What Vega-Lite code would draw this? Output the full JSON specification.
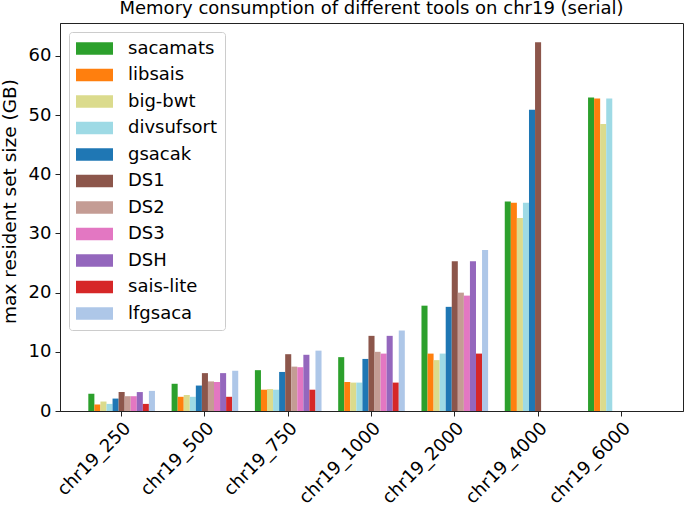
{
  "$schema": "https://vega.github.io/schema/vega-lite/v6.json",
  "width": 623,
  "height": 388,
  "autosize": {"type": "none"},
  "padding": {"left": 60, "top": 23, "right": 2, "bottom": 94},
  "config": {
    "font": "DejaVu Sans",
    "view": {"stroke": "#222222", "strokeWidth": 1},
    "axis": {"grid": false, "domainColor": "#222222", "tickColor": "#222222", "labelColor": "#000000", "titleColor": "#000000", "labelFont": "DejaVu Sans", "titleFont": "DejaVu Sans"}
  },
  "title": {
    "text": "Memory consumption of different tools on chr19 (serial)",
    "fontSize": 18,
    "fontWeight": "normal",
    "color": "#000000",
    "anchor": "middle",
    "offset": 5
  },
  "data": {
    "values": [
      {"dataset": "chr19_250", "tool": "sacamats", "gb": 2.9},
      {"dataset": "chr19_250", "tool": "libsais", "gb": 1.1},
      {"dataset": "chr19_250", "tool": "big-bwt", "gb": 1.6},
      {"dataset": "chr19_250", "tool": "divsufsort", "gb": 1.2},
      {"dataset": "chr19_250", "tool": "gsacak", "gb": 2.1},
      {"dataset": "chr19_250", "tool": "DS1", "gb": 3.2},
      {"dataset": "chr19_250", "tool": "DS2", "gb": 2.5},
      {"dataset": "chr19_250", "tool": "DS3", "gb": 2.5},
      {"dataset": "chr19_250", "tool": "DSH", "gb": 3.2},
      {"dataset": "chr19_250", "tool": "sais-lite", "gb": 1.2},
      {"dataset": "chr19_250", "tool": "lfgsaca", "gb": 3.4},
      {"dataset": "chr19_500", "tool": "sacamats", "gb": 4.6},
      {"dataset": "chr19_500", "tool": "libsais", "gb": 2.4},
      {"dataset": "chr19_500", "tool": "big-bwt", "gb": 2.7},
      {"dataset": "chr19_500", "tool": "divsufsort", "gb": 2.4},
      {"dataset": "chr19_500", "tool": "gsacak", "gb": 4.3},
      {"dataset": "chr19_500", "tool": "DS1", "gb": 6.4},
      {"dataset": "chr19_500", "tool": "DS2", "gb": 5.0},
      {"dataset": "chr19_500", "tool": "DS3", "gb": 4.9},
      {"dataset": "chr19_500", "tool": "DSH", "gb": 6.4},
      {"dataset": "chr19_500", "tool": "sais-lite", "gb": 2.4},
      {"dataset": "chr19_500", "tool": "lfgsaca", "gb": 6.8},
      {"dataset": "chr19_750", "tool": "sacamats", "gb": 6.9},
      {"dataset": "chr19_750", "tool": "libsais", "gb": 3.6},
      {"dataset": "chr19_750", "tool": "big-bwt", "gb": 3.7},
      {"dataset": "chr19_750", "tool": "divsufsort", "gb": 3.6},
      {"dataset": "chr19_750", "tool": "gsacak", "gb": 6.6},
      {"dataset": "chr19_750", "tool": "DS1", "gb": 9.6},
      {"dataset": "chr19_750", "tool": "DS2", "gb": 7.5},
      {"dataset": "chr19_750", "tool": "DS3", "gb": 7.4},
      {"dataset": "chr19_750", "tool": "DSH", "gb": 9.5},
      {"dataset": "chr19_750", "tool": "sais-lite", "gb": 3.6},
      {"dataset": "chr19_750", "tool": "lfgsaca", "gb": 10.2},
      {"dataset": "chr19_1000", "tool": "sacamats", "gb": 9.1},
      {"dataset": "chr19_1000", "tool": "libsais", "gb": 4.9},
      {"dataset": "chr19_1000", "tool": "big-bwt", "gb": 4.8},
      {"dataset": "chr19_1000", "tool": "divsufsort", "gb": 4.8},
      {"dataset": "chr19_1000", "tool": "gsacak", "gb": 8.8},
      {"dataset": "chr19_1000", "tool": "DS1", "gb": 12.7},
      {"dataset": "chr19_1000", "tool": "DS2", "gb": 10.0},
      {"dataset": "chr19_1000", "tool": "DS3", "gb": 9.7},
      {"dataset": "chr19_1000", "tool": "DSH", "gb": 12.7},
      {"dataset": "chr19_1000", "tool": "sais-lite", "gb": 4.8},
      {"dataset": "chr19_1000", "tool": "lfgsaca", "gb": 13.6},
      {"dataset": "chr19_2000", "tool": "sacamats", "gb": 17.8},
      {"dataset": "chr19_2000", "tool": "libsais", "gb": 9.7},
      {"dataset": "chr19_2000", "tool": "big-bwt", "gb": 8.6},
      {"dataset": "chr19_2000", "tool": "divsufsort", "gb": 9.7},
      {"dataset": "chr19_2000", "tool": "gsacak", "gb": 17.6},
      {"dataset": "chr19_2000", "tool": "DS1", "gb": 25.3},
      {"dataset": "chr19_2000", "tool": "DS2", "gb": 20.0},
      {"dataset": "chr19_2000", "tool": "DS3", "gb": 19.5},
      {"dataset": "chr19_2000", "tool": "DSH", "gb": 25.3},
      {"dataset": "chr19_2000", "tool": "sais-lite", "gb": 9.7},
      {"dataset": "chr19_2000", "tool": "lfgsaca", "gb": 27.2},
      {"dataset": "chr19_4000", "tool": "sacamats", "gb": 35.4},
      {"dataset": "chr19_4000", "tool": "libsais", "gb": 35.2},
      {"dataset": "chr19_4000", "tool": "big-bwt", "gb": 32.6},
      {"dataset": "chr19_4000", "tool": "divsufsort", "gb": 35.2},
      {"dataset": "chr19_4000", "tool": "gsacak", "gb": 50.9},
      {"dataset": "chr19_4000", "tool": "DS1", "gb": 62.3},
      {"dataset": "chr19_6000", "tool": "sacamats", "gb": 53.0},
      {"dataset": "chr19_6000", "tool": "libsais", "gb": 52.8},
      {"dataset": "chr19_6000", "tool": "big-bwt", "gb": 48.5},
      {"dataset": "chr19_6000", "tool": "divsufsort", "gb": 52.8}
    ]
  },
  "mark": {"type": "bar"},
  "encoding": {
    "x": {
      "field": "dataset",
      "type": "nominal",
      "sort": ["chr19_250", "chr19_500", "chr19_750", "chr19_1000", "chr19_2000", "chr19_4000", "chr19_6000"],
      "scale": {"paddingInner": 0.2, "paddingOuter": 0.34},
      "axis": {"title": null, "labelAngle": -45, "labelAlign": "right", "labelBaseline": "top", "labelFontSize": 18, "labelPadding": 3, "tickSize": 5, "domainWidth": 1}
    },
    "xOffset": {
      "field": "tool",
      "type": "nominal",
      "sort": ["sacamats", "libsais", "big-bwt", "divsufsort", "gsacak", "DS1", "DS2", "DS3", "DSH", "sais-lite", "lfgsaca"],
      "scale": {"domain": ["sacamats", "libsais", "big-bwt", "divsufsort", "gsacak", "DS1", "DS2", "DS3", "DSH", "sais-lite", "lfgsaca"], "paddingInner": 0, "paddingOuter": 0}
    },
    "y": {
      "field": "gb",
      "type": "quantitative",
      "scale": {"domain": [0, 65.57], "nice": false},
      "axis": {"title": "max resident set size (GB)", "titleFontSize": 18.5, "titleFontWeight": "normal", "titleAngle": -90, "titleAlign": "center", "titleBaseline": "middle", "titleX": -51, "titleY": 178, "labelFontSize": 18, "values": [0, 10, 20, 30, 40, 50, 60], "tickSize": 5, "labelPadding": 4}
    },
    "color": {
      "field": "tool",
      "type": "nominal",
      "sort": ["sacamats", "libsais", "big-bwt", "divsufsort", "gsacak", "DS1", "DS2", "DS3", "DSH", "sais-lite", "lfgsaca"],
      "scale": {
        "domain": ["sacamats", "libsais", "big-bwt", "divsufsort", "gsacak", "DS1", "DS2", "DS3", "DSH", "sais-lite", "lfgsaca"],
        "range": ["#2ca02c", "#ff7f0e", "#dbdb8d", "#9edae5", "#1f77b4", "#8c564b", "#c49c94", "#e377c2", "#9467bd", "#d62728", "#aec7e8"]
      },
      "legend": {
        "title": null,
        "orient": "none",
        "legendX": 9,
        "legendY": 9,
        "padding": 7,
        "strokeColor": "#cccccc",
        "fillColor": "#ffffff",
        "cornerRadius": 3,
        "symbolType": "M-1.947,-0.668L1.947,-0.668L1.947,0.668L-1.947,0.668Z",
        "symbolSize": 361,
        "symbolOffset": 9,
        "symbolStrokeWidth": 0,
        "symbolOpacity": 1,
        "labelFontSize": 18,
        "labelColor": "#000000",
        "labelOffset": 24,
        "rowPadding": 7.5
      }
    }
  }
}
